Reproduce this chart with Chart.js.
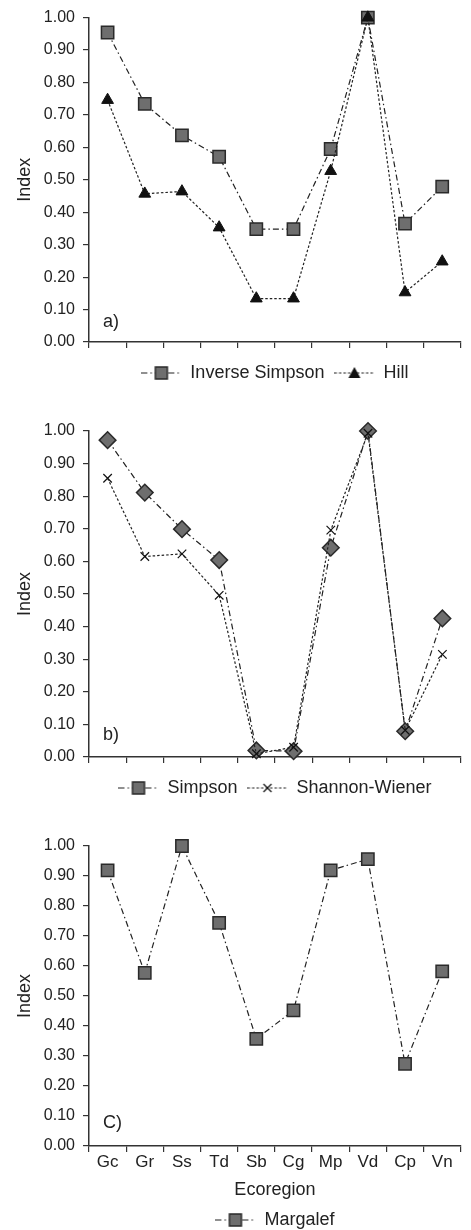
<!DOCTYPE html>
<html>
<head>
<meta charset="utf-8">
<script src="https://cdn.jsdelivr.net/npm/chart.js@4"></script>
<style>
  html, body { margin: 0; padding: 0; background: #fff; overflow: hidden; }
  canvas { display: block; }
</style>
</head>
<body>
<canvas id="chartA" width="471" height="392"></canvas>
<canvas id="chartB" width="471" height="415"></canvas>
<canvas id="chartC" width="471" height="432"></canvas>
<script>
// data
const ecoregions = ['Gc', 'Gr', 'Ss', 'Td', 'Sb', 'Cg', 'Mp', 'Vd', 'Cp', 'Vn'];
const inverseSimpson = [0.954, 0.734, 0.637, 0.571, 0.348, 0.348, 0.595, 1.00, 0.365, 0.479];
const hill = [0.746, 0.457, 0.464, 0.353, 0.134, 0.134, 0.527, 1.00, 0.153, 0.248];
const simpson = [0.972, 0.811, 0.699, 0.604, 0.020, 0.018, 0.642, 1.00, 0.079, 0.425];
const shannonWiener = [0.855, 0.615, 0.623, 0.496, 0.010, 0.030, 0.696, 0.993, 0.082, 0.315];
const margalef = [0.919, 0.577, 1.00, 0.744, 0.357, 0.452, 0.919, 0.956, 0.274, 0.582];
const yMin = 0, yMax = 1, yStep = 0.1;

const FONT = '"Liberation Sans", Arial, Helvetica, sans-serif';
const INK = '#222';
const dashDot = [6, 3, 1.5, 3];
const dotted = [2.5, 2];

Chart.defaults.font.family = FONT;
Chart.defaults.color = INK;

// small canvas used as the legend symbol: line with marker in the middle
function legendIcon(marker, dash) {
  const c = document.createElement('canvas');
  c.width = 40; c.height = 18;
  const g = c.getContext('2d');
  g.strokeStyle = INK;
  g.lineWidth = 1.2;
  g.setLineDash(dash);
  g.beginPath(); g.moveTo(0, 9); g.lineTo(40, 9); g.stroke();
  g.setLineDash([]);
  if (marker === 'square') {
    g.fillStyle = '#6e6e6e'; g.strokeStyle = '#2a2a2a'; g.lineWidth = 1.5;
    g.fillRect(14, 3, 12, 12); g.strokeRect(14, 3, 12, 12);
  } else if (marker === 'triangle') {
    g.fillStyle = '#111';
    g.beginPath(); g.moveTo(20, 3); g.lineTo(26, 14); g.lineTo(14, 14); g.closePath(); g.fill();
  } else if (marker === 'cross') {
    g.strokeStyle = '#111'; g.lineWidth = 1.2;
    g.beginPath(); g.moveTo(16, 5); g.lineTo(24, 13); g.moveTo(24, 5); g.lineTo(16, 13); g.stroke();
  }
  return c;
}

function series(label, data, marker, dash, order) {
  const base = {
    label: label, data: data, order: order,
    borderColor: INK, borderWidth: 1.2, borderDash: dash,
    fill: false, tension: 0, clip: false,
    legendIcon: legendIcon(marker === 'diamond' ? 'square' : marker, dash)
  };
  if (marker === 'square') {
    Object.assign(base, { pointStyle: 'rect', pointRadius: 8.7, pointBackgroundColor: '#6e6e6e',
      pointBorderColor: '#2a2a2a', pointBorderWidth: 1.5 });
  } else if (marker === 'diamond') {
    Object.assign(base, { pointStyle: 'rectRot', pointRadius: 8.3, pointBackgroundColor: '#6e6e6e',
      pointBorderColor: '#2a2a2a', pointBorderWidth: 1.5 });
  } else if (marker === 'triangle') {
    Object.assign(base, { pointStyle: 'triangle', pointRadius: 6.8, pointBackgroundColor: '#111',
      pointBorderColor: '#111', pointBorderWidth: 1 });
  } else if (marker === 'cross') {
    Object.assign(base, { pointStyle: 'crossRot', pointRadius: 6, pointBackgroundColor: '#111',
      pointBorderColor: '#111', pointBorderWidth: 1.2 });
  }
  return base;
}

// "a)", "b)", "C)" inside the plot
const panelLabel = {
  id: 'panelLabel',
  afterDatasetsDraw(chart, args, opts) {
    const { ctx, chartArea, scales } = chart;
    ctx.save();
    ctx.font = '18px ' + FONT;
    ctx.fillStyle = INK;
    ctx.textBaseline = 'middle';
    ctx.fillText(opts.text, chartArea.left + 14, scales.y.getPixelForValue(opts.value));
    ctx.restore();
  }
};

function buildChart(id, datasets, cfg) {
  return new Chart(document.getElementById(id), {
    type: 'line',
    data: { labels: ecoregions, datasets: datasets },
    plugins: [panelLabel],
    options: {
      responsive: false,
      animation: false,
      devicePixelRatio: 1,
      layout: { padding: { top: cfg.top, left: 10, right: 10, bottom: 0 } },
      scales: {
        x: {
          offset: true,
          grid: { offset: true, drawOnChartArea: false, drawTicks: true, tickLength: 6, color: '#333', lineWidth: 1.2 },
          border: { color: '#333', width: 1.5 },
          ticks: { display: cfg.xLabels, padding: 0, font: { size: 17 }, color: INK },
          title: { display: cfg.xLabels, text: 'Ecoregion', font: { size: 18 }, color: INK, padding: { top: 0, bottom: 0 } },
          afterFit: s => { s.height = cfg.xHeight; }
        },
        y: {
          min: yMin, max: yMax,
          grid: { drawOnChartArea: false, drawTicks: true, tickLength: 6, color: '#333', lineWidth: 1.2 },
          border: { color: '#333', width: 1.5 },
          ticks: { stepSize: yStep, padding: 8, font: { size: 16 }, color: INK, callback: v => v.toFixed(2) },
          title: { display: true, text: 'Index', font: { size: 18 }, color: INK, padding: { top: 4, bottom: 0 } },
          afterFit: s => { s.width = 79; }
        }
      },
      plugins: {
        tooltip: { enabled: false },
        panelLabel: { text: cfg.label, value: cfg.labelValue },
        legend: {
          position: 'bottom',
          fullSize: false,
          labels: {
            usePointStyle: true,
            pointStyleWidth: 40,
            padding: 10,
            font: { size: 18 },
            color: INK,
            sort: (a, b) => a.datasetIndex - b.datasetIndex,
            generateLabels: chart => Chart.defaults.plugins.legend.labels.generateLabels(chart).map(item => {
              item.pointStyle = chart.data.datasets[item.datasetIndex].legendIcon;
              return item;
            })
          }
        }
      }
    }
  });
}

buildChart('chartA', [
  series('Inverse Simpson', inverseSimpson, 'square', dashDot, 1),
  series('Hill', hill, 'triangle', dotted, 0)
], { top: 16, xHeight: 12, xLabels: false, label: 'a)', labelValue: 0.063 });

buildChart('chartB', [
  series('Simpson', simpson, 'diamond', dashDot, 1),
  series('Shannon-Wiener', shannonWiener, 'cross', dotted, 0)
], { top: 39, xHeight: 12, xLabels: false, label: 'b)', labelValue: 0.067 });

buildChart('chartC', [
  series('Margalef', margalef, 'square', dashDot, 0)
], { top: 39, xHeight: 55, xLabels: true, label: 'C)', labelValue: 0.077 });
</script>
</body>
</html>
